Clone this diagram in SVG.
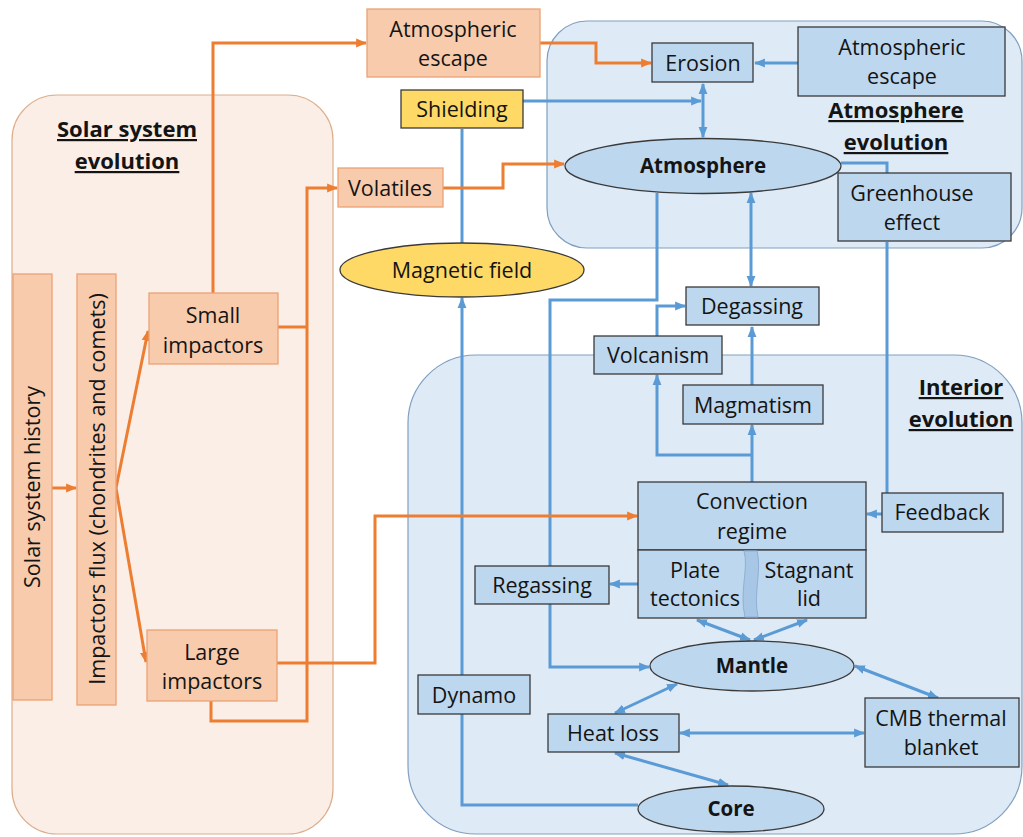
<svg xmlns="http://www.w3.org/2000/svg" width="1023" height="837" viewBox="0 0 1023 837">
<style>
text{font-family:"Open Sans","Noto Sans","Liberation Sans",sans-serif;font-size:21.5px;fill:#141414;text-anchor:middle}
.b{font-weight:bold;font-size:20.5px}
.u{font-weight:bold;font-size:22px;text-decoration:underline}
.on{fill:#f8cbad;stroke:#eaa274;stroke-width:1.3}
.bn{fill:#bdd7ee;stroke:#3a3a3a;stroke-width:1.3}
.yn{fill:#ffd966;stroke:#3a3a3a;stroke-width:1.3}
.ol{fill:none;stroke:#ed7d31;stroke-width:3}
.bl{fill:none;stroke:#5b9bd5;stroke-width:3}
.oa{marker-end:url(#ao)}
.ba{marker-end:url(#ab)}
.bd{marker-end:url(#ab);marker-start:url(#ab)}
</style>
<defs>
<marker id="ao" viewBox="0 0 10 10" refX="9" refY="5" markerWidth="11" markerHeight="11" markerUnits="userSpaceOnUse" orient="auto-start-reverse"><path d="M0,1 L10,5 L0,9 z" fill="#ed7d31"/></marker>
<marker id="ab" viewBox="0 0 10 10" refX="9" refY="5" markerWidth="11" markerHeight="11" markerUnits="userSpaceOnUse" orient="auto-start-reverse"><path d="M0,1 L10,5 L0,9 z" fill="#5b9bd5"/></marker>
</defs>
<rect width="1023" height="837" fill="#ffffff"/>
<g id="containers">
<rect id="solar-container" x="12" y="95" width="321" height="739" rx="45" fill="#fbeee6" stroke="#dcae8c" stroke-width="1.2"/>
<rect id="atmosphere-container" x="547" y="21" width="475" height="227" rx="40" fill="#deeaf6" stroke="#7f9fc0" stroke-width="1.2"/>
<rect id="interior-container" x="408" y="355" width="614" height="479" rx="68" fill="#deeaf6" stroke="#7f9fc0" stroke-width="1.2"/>
</g>
<g id="connectors">
<path class="bl ba" d="M798,63 H755"/>
<path class="bl ba" d="M523,101 H701"/>
<path class="bl bd" d="M703,84 V137"/>
<path class="bl" d="M462,129 V243"/>
<path class="bl ba" d="M638,805 H462 V298"/>
<path class="bl ba" d="M657,193 V300 H550 V667 H649"/>
<path class="bl ba" d="M657,336 V306 H685"/>
<path class="bl bd" d="M751,193 V286"/>
<path class="bl ba" d="M752,385 V327"/>
<path class="bl ba" d="M752,482 V425"/>
<path class="bl ba" d="M752,455 H657 V375"/>
<path class="bl" d="M841,163 H887 V173"/>
<path class="bl" d="M887,242 V493"/>
<path class="bl ba" d="M882,514 H867"/>
<path class="bl ba" d="M638,584 H610"/>
<path class="bl bd" d="M697,620 L750,640"/>
<path class="bl bd" d="M807,620 L754,640"/>
<path class="bl bd" d="M855,666 L938,698"/>
<path class="bl bd" d="M677,684 L615,713"/>
<path class="bl bd" d="M680,733 L864,733"/>
<path class="bl bd" d="M615,753 L728,785"/>
<path class="ol oa" d="M52,488 H76"/>
<path class="ol oa" d="M116,488 L148,331"/>
<path class="ol oa" d="M116,488 L146,662"/>
<path class="ol oa" d="M213,293 V43 H366"/>
<path class="ol" d="M278,327 H307"/>
<path class="ol oa" d="M211,701 V721 H307 V188 H337"/>
<path class="ol oa" d="M277,663 H375 V516 H637"/>
<path class="ol oa" d="M443,188 H503 V164 H564"/>
<path class="ol oa" d="M540,43 H596 V63 H651"/>
</g>
<g id="solar-label"><text class="u" x="127" y="137">Solar system</text><text class="u" x="127" y="169">evolution</text></g>
<g id="atmosphere-label"><text class="u" x="896" y="118">Atmosphere</text><text class="u" x="896" y="150">evolution</text></g>
<g id="interior-label"><text class="u" x="961" y="395">Interior</text><text class="u" x="961" y="427">evolution</text></g>
<g id="solar-history"><rect class="on" x="13" y="274" width="39" height="426"/><text transform="translate(40,487) rotate(-90)">Solar system history</text></g>
<g id="impactors-flux"><rect class="on" x="77" y="274" width="39" height="431"/><text transform="translate(105,489) rotate(-90)">Impactors flux (chondrites and comets)</text></g>
<g id="small-impactors"><rect class="on" x="149" y="293" width="129" height="71"/><text x="213" y="323">Small</text><text x="213" y="353">impactors</text></g>
<g id="large-impactors"><rect class="on" x="147" y="630" width="130" height="71"/><text x="212" y="660">Large</text><text x="212" y="689">impactors</text></g>
<g id="atm-escape-orange"><rect class="on" x="367" y="9" width="173" height="68"/><text x="453" y="37">Atmospheric</text><text x="453" y="66">escape</text></g>
<g id="volatiles"><rect class="on" x="338" y="168" width="105" height="39"/><text x="390" y="196">Volatiles</text></g>
<g id="shielding"><rect class="yn" x="401" y="90" width="122" height="38"/><text x="462" y="117">Shielding</text></g>
<g id="magnetic-field"><ellipse class="yn" cx="462" cy="270" rx="122" ry="27"/><text x="462" y="278">Magnetic field</text></g>
<g id="erosion"><rect class="bn" x="652" y="43" width="101" height="39"/><text x="703" y="71">Erosion</text></g>
<g id="atm-escape-blue"><rect class="bn" x="798" y="27" width="207" height="69"/><text x="902" y="55">Atmospheric</text><text x="902" y="84">escape</text></g>
<g id="atmosphere"><ellipse class="bn" cx="703" cy="166" rx="138" ry="27.5"/><text class="b" x="703" y="173">Atmosphere</text></g>
<g id="greenhouse"><rect class="bn" x="838" y="173" width="173" height="68"/><text x="912" y="201">Greenhouse</text><text x="912" y="230">effect</text></g>
<g id="degassing"><rect class="bn" x="686" y="287" width="133" height="38"/><text x="752" y="314">Degassing</text></g>
<g id="volcanism"><rect class="bn" x="594" y="336" width="128" height="38"/><text x="658" y="363">Volcanism</text></g>
<g id="magmatism"><rect class="bn" x="683" y="385" width="140" height="39"/><text x="753" y="413">Magmatism</text></g>
<g id="convection"><rect class="bn" x="638" y="482" width="228" height="68"/><text x="752" y="509">Convection</text><text x="752" y="539">regime</text></g>
<g id="tectonics"><rect class="bn" x="638" y="550" width="228" height="68"/><path d="M744,551 C749,568 739,592 745,617 L758,617 C753,594 762,570 757,551 Z" fill="#a8c6e6" stroke="#8fb0d6" stroke-width="1"/><text x="695" y="578">Plate</text><text x="695" y="606">tectonics</text><text x="809" y="578">Stagnant</text><text x="809" y="606">lid</text></g>
<g id="regassing"><rect class="bn" x="475" y="566" width="134" height="38"/><text x="542" y="593">Regassing</text></g>
<g id="feedback"><rect class="bn" x="882" y="493" width="121" height="39"/><text x="942" y="520">Feedback</text></g>
<g id="mantle"><ellipse class="bn" cx="752" cy="666" rx="102" ry="25"/><text class="b" x="752" y="673">Mantle</text></g>
<g id="dynamo"><rect class="bn" x="418" y="675" width="112" height="39"/><text x="474" y="703">Dynamo</text></g>
<g id="heat-loss"><rect class="bn" x="548" y="714" width="131" height="38"/><text x="613" y="741">Heat loss</text></g>
<g id="cmb"><rect class="bn" x="865" y="698" width="154" height="69"/><text x="941" y="726">CMB thermal</text><text x="941" y="755">blanket</text></g>
<g id="core"><ellipse class="bn" cx="731" cy="809" rx="93" ry="23"/><text class="b" x="731" y="816">Core</text></g>
</svg>
